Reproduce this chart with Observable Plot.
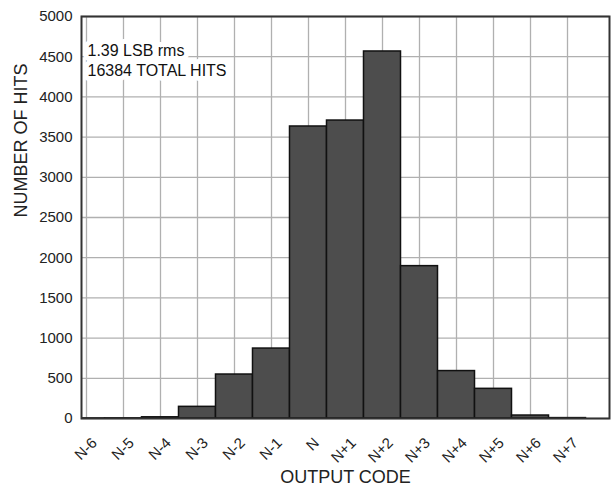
<!DOCTYPE html>
<html>
<head>
<meta charset="utf-8">
<script src="https://cdn.jsdelivr.net/npm/d3@7"></script>
<script src="https://cdn.jsdelivr.net/npm/@observablehq/plot@0.6"></script>
<style>
  html, body { margin: 0; padding: 0; background: #fff; }
  svg { display: block; }
</style>
</head>
<body>
<div id="chart"></div>
<script>
const categories = ["N-6","N-5","N-4","N-3","N-2","N-1","N","N+1","N+2","N+3","N+4","N+5","N+6","N+7"];
const hits = [1, 2, 15, 145, 547, 870, 3632, 3706, 4565, 1895, 590, 369, 37, 5];
const yTicks = [0, 500, 1000, 1500, 2000, 2500, 3000, 3500, 4000, 4500, 5000];
const notes = ["1.39 LSB rms\n16384 TOTAL HITS"];

const data = categories.map((c, i) => ({code: c, i, hits: hits[i]}));
const idx = categories.map((c, i) => i);
const font = "'Liberation Sans', Arial, Helvetica, sans-serif";

const chart = Plot.plot({
  width: 611,
  height: 488,
  marginTop: 16,
  marginRight: 2,
  marginBottom: 70,
  marginLeft: 81,
  style: {fontFamily: font, fontSize: "15px", color: "#222", background: "#fff"},
  x: {type: "linear", domain: [-0.135, 14.135]},
  y: {domain: [0, 5000]},
  marks: [
    Plot.gridX(idx, {stroke: "#b0b0b0", strokeOpacity: 1, strokeWidth: 1.3}),
    Plot.gridY(yTicks, {stroke: "#b0b0b0", strokeOpacity: 1, strokeWidth: 1.3}),
    Plot.text(notes, {
      frameAnchor: "top-left", dx: 6, dy: 25.7, lineAnchor: "top",
      fontSize: 16, lineHeight: 1.25, fill: "#111",
      stroke: "white", strokeWidth: 10, strokeLinejoin: "round", paintOrder: "stroke"
    }),
    Plot.rectY(data, {
      x1: d => d.i - 0.5, x2: d => d.i + 0.5, y: "hits",
      fill: "#4d4d4d", stroke: "#111", strokeWidth: 1.5, clip: true
    }),
    Plot.frame({stroke: "#333", strokeWidth: 2}),
    Plot.axisY(yTicks, {
      tickSize: 0, tickPadding: 9, fontSize: 15, tickFormat: d => String(d),
      label: null
    }),
    Plot.text(["NUMBER OF HITS"], {
      frameAnchor: "left", dx: -60, rotate: -90, fontSize: 18, fill: "#222"
    }),
    Plot.axisX(idx, {
      tickSize: 0, tickRotate: -45, tickFormat: i => categories[i],
      fontSize: 15, dx: 8, dy: 10,
      label: null
    }),
    Plot.text(["OUTPUT CODE"], {
      frameAnchor: "bottom", dy: 64, fontSize: 18, lineAnchor: "bottom", fill: "#222"
    })
  ]
});
document.getElementById("chart").appendChild(chart);
</script>
</body>
</html>
